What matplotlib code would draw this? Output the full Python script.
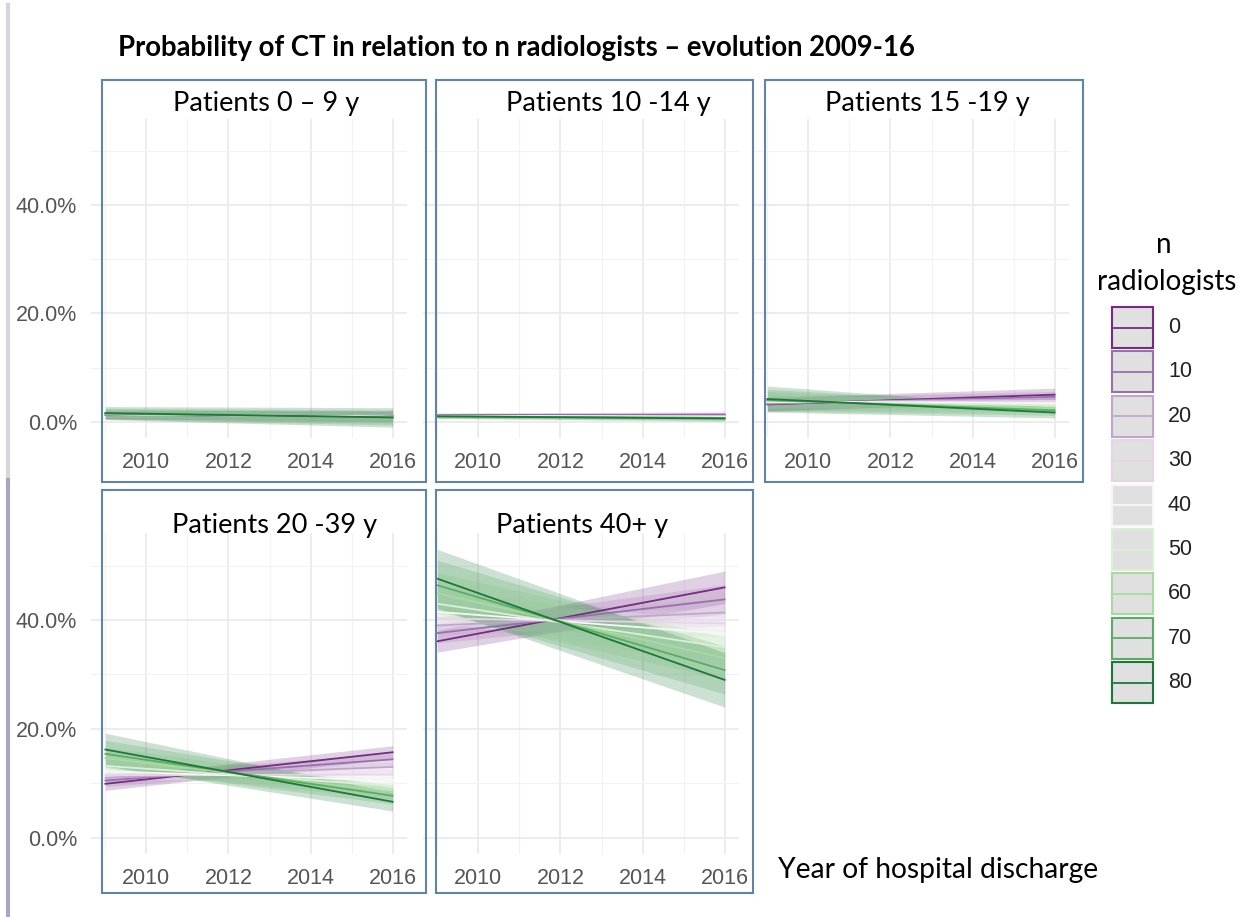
import numpy as np
import matplotlib.pyplot as plt
from matplotlib.patches import Rectangle
from matplotlib.lines import Line2D

# data, probability in %
years = [2009, 2016]
n_rad = [0, 10, 20, 30, 40, 50, 60, 70, 80]
colors = ["#762a83", "#9970ab", "#c2a5cf", "#e7d4e8", "#f7f7f7",
          "#d9f0d3", "#a6dba0", "#5aae61", "#1b7837"]

panel_titles = ["Patients 0 \u2013 9 y", "Patients 10 -14 y", "Patients 15 -19 y",
                "Patients 20 -39 y", "Patients 40+ y"]

# value at 2009 / 2016 for each n radiologists
p09_start = [1.3, 1.3, 1.4, 1.4, 1.4, 1.5, 1.5, 1.5, 1.6]
p09_end = [1.0, 1.0, 1.0, 0.9, 0.9, 0.9, 0.8, 0.8, 0.8]
p10_start = [1.2, 1.2, 1.1, 1.1, 1.1, 1.0, 1.0, 1.0, 1.0]
p10_end = [1.3, 1.2, 1.1, 1.0, 0.9, 0.8, 0.7, 0.7, 0.6]
p15_start = [3.2, 3.3, 3.5, 3.6, 3.7, 3.8, 3.9, 4.0, 4.2]
p15_end = [5.0, 4.6, 4.2, 3.8, 3.4, 3.0, 2.5, 2.1, 1.7]
p20_start = [9.9, 10.5, 11.0, 11.5, 12.2, 13.2, 14.6, 15.4, 16.2]
p20_end = [15.7, 14.4, 13.0, 11.6, 10.5, 9.5, 8.4, 7.7, 6.6]
p40_start = [36.1, 37.6, 39.0, 40.3, 41.5, 43.0, 44.9, 46.4, 47.6]
p40_end = [46.0, 43.8, 41.4, 39.4, 37.5, 35.0, 33.0, 30.8, 29.0]

# half width of the confidence band at 2009 / 2016
ci09_start = [0.8, 0.7, 0.7, 0.7, 0.7, 0.8, 0.9, 1.0, 1.2]
ci09_end = [1.0, 0.9, 0.8, 0.8, 0.8, 0.9, 1.1, 1.4, 1.8]
ci10_start = [0.4, 0.3, 0.3, 0.3, 0.3, 0.3, 0.3, 0.3, 0.4]
ci10_end = [0.5, 0.4, 0.3, 0.3, 0.3, 0.3, 0.3, 0.4, 0.5]
ci15_start = [1.3, 1.2, 1.1, 1.1, 1.2, 1.4, 1.7, 2.0, 2.4]
ci15_end = [1.2, 1.0, 0.9, 0.8, 0.8, 0.8, 0.8, 0.9, 1.0]
ci20_start = [1.2, 1.1, 1.0, 1.0, 1.2, 1.6, 2.0, 2.5, 3.0]
ci20_end = [1.2, 1.1, 1.0, 1.0, 1.0, 1.1, 1.3, 1.5, 1.7]
ci40_start = [2.0, 1.8, 1.7, 1.8, 2.2, 3.0, 3.8, 4.6, 5.4]
ci40_end = [3.0, 2.7, 2.5, 2.5, 2.8, 3.3, 3.9, 4.4, 5.0]

panels = [(p09_start, p09_end, ci09_start, ci09_end),
          (p10_start, p10_end, ci10_start, ci10_end),
          (p15_start, p15_end, ci15_start, ci15_end),
          (p20_start, p20_end, ci20_start, ci20_end),
          (p40_start, p40_end, ci40_start, ci40_end)]

W, H = 1250, 917
fig = plt.figure(figsize=(W / 100, H / 100), dpi=100)
plt.rcParams['font.family'] = ['Liberation Sans', 'DejaVu Sans']


def fx(x):
    return x / W


def fy(y):
    return 1 - y / H


# axes placement in pixels (left, top) and panel boxes (x0, y0, x1, y1)
ax_pos = [(91, 118.5), (423, 118.5), (753, 118.5), (91, 533), (423, 533)]
ax_h = [319.5, 319.5, 319.5, 321, 321]
boxes = [(102, 80, 426, 482), (436, 80, 753, 482), (765, 80, 1083, 482),
         (102, 490, 426, 893), (436, 490, 753, 893)]
title_pos = [(266, 103), (608, 103), (927, 103), (275, 525), (582, 525)]

grey_txt = "#555555"

for i, (ps, pe, cs, ce) in enumerate(panels):
    left, top = ax_pos[i]
    ax = fig.add_axes([fx(left), fy(top + ax_h[i]), 316 / W, ax_h[i] / H])
    ax.set_xlim(2008.65, 2016.35)
    ax.set_ylim(-3, 56)
    ax.set_xticks([2010, 2012, 2014, 2016])
    ax.set_xticks([2009, 2011, 2013, 2015], minor=True)
    ax.set_yticks([0, 20, 40])
    ax.set_yticks([10, 30, 50], minor=True)
    ax.grid(True, which='major', color='#ebebeb', lw=1.3)
    ax.grid(True, which='minor', color='#f2f2f2', lw=0.8)
    ax.set_axisbelow(True)
    for s in ax.spines.values():
        s.set_visible(False)
    ax.tick_params(which='both', length=0, labelsize=15.5, labelcolor=grey_txt)
    ax.tick_params(axis='x', pad=10)
    ax.tick_params(axis='y', pad=10)
    if i in (0, 3):
        ax.set_yticklabels(["0.0%", "20.0%", "40.0%"])
    else:
        ax.set_yticklabels([])
    ax.patch.set_alpha(0)

    for k in range(len(n_rad)):
        y = np.array([ps[k], pe[k]])
        c = np.array([cs[k], ce[k]])
        ax.fill_between(years, y - c, y + c, color=colors[k], alpha=0.22, lw=0)
    for k in range(len(n_rad)):
        y = [ps[k], pe[k]]
        ax.plot(years, y, color=colors[k], lw=1.3)

    x0, y0, x1, y1 = boxes[i]
    fig.patches.append(Rectangle((fx(x0), fy(y1)), (x1 - x0) / W, (y1 - y0) / H,
                                 transform=fig.transFigure, fill=False,
                                 ec='#5f84a8', lw=1.5, zorder=5))
    tx, ty = title_pos[i]
    fig.text(fx(tx), fy(ty), panel_titles[i], family='Lato', fontsize=19.5,
             ha='center', va='center', color='black')

# main title
fig.text(fx(118), fy(48), "Probability of CT in relation to n radiologists \u2013 evolution 2009-16",
         family='Lato', fontweight='bold', fontsize=19.8, ha='left', va='center')

# x axis title
fig.text(fx(778), fy(870), "Year of hospital discharge", family='Lato',
         fontsize=20.3, ha='left', va='center')

# legend
fig.text(fx(1164), fy(245), "n", family='Lato', fontsize=20, ha='center', va='center')
fig.text(fx(1167), fy(282), "radiologists", family='Lato', fontsize=20,
         ha='center', va='center')
for k, n in enumerate(n_rad):
    top = 307 + 44.4 * k
    fig.patches.append(Rectangle((fx(1112), fy(top + 41)), 41 / W, 41 / H,
                                 transform=fig.transFigure, fc='#e0e0e0',
                                 ec=colors[k], lw=1.5))
    fig.lines.append(Line2D([fx(1114), fx(1151)], [fy(top + 20.5)] * 2,
                            transform=fig.transFigure, color=colors[k], lw=1.3))
    fig.text(fx(1168), fy(top + 20.5), str(n), fontsize=15.5, color='#222222',
             ha='left', va='center')

# slide edge line on the left
fig.lines.append(Line2D([fx(8), fx(8)], [fy(5), fy(480)], transform=fig.transFigure,
                        color='#d6d6da', lw=3))
fig.lines.append(Line2D([fx(8), fx(8)], [fy(480), fy(917)], transform=fig.transFigure,
                        color='#a9a6bf', lw=3))

fig.savefig("out.png", dpi=100)
